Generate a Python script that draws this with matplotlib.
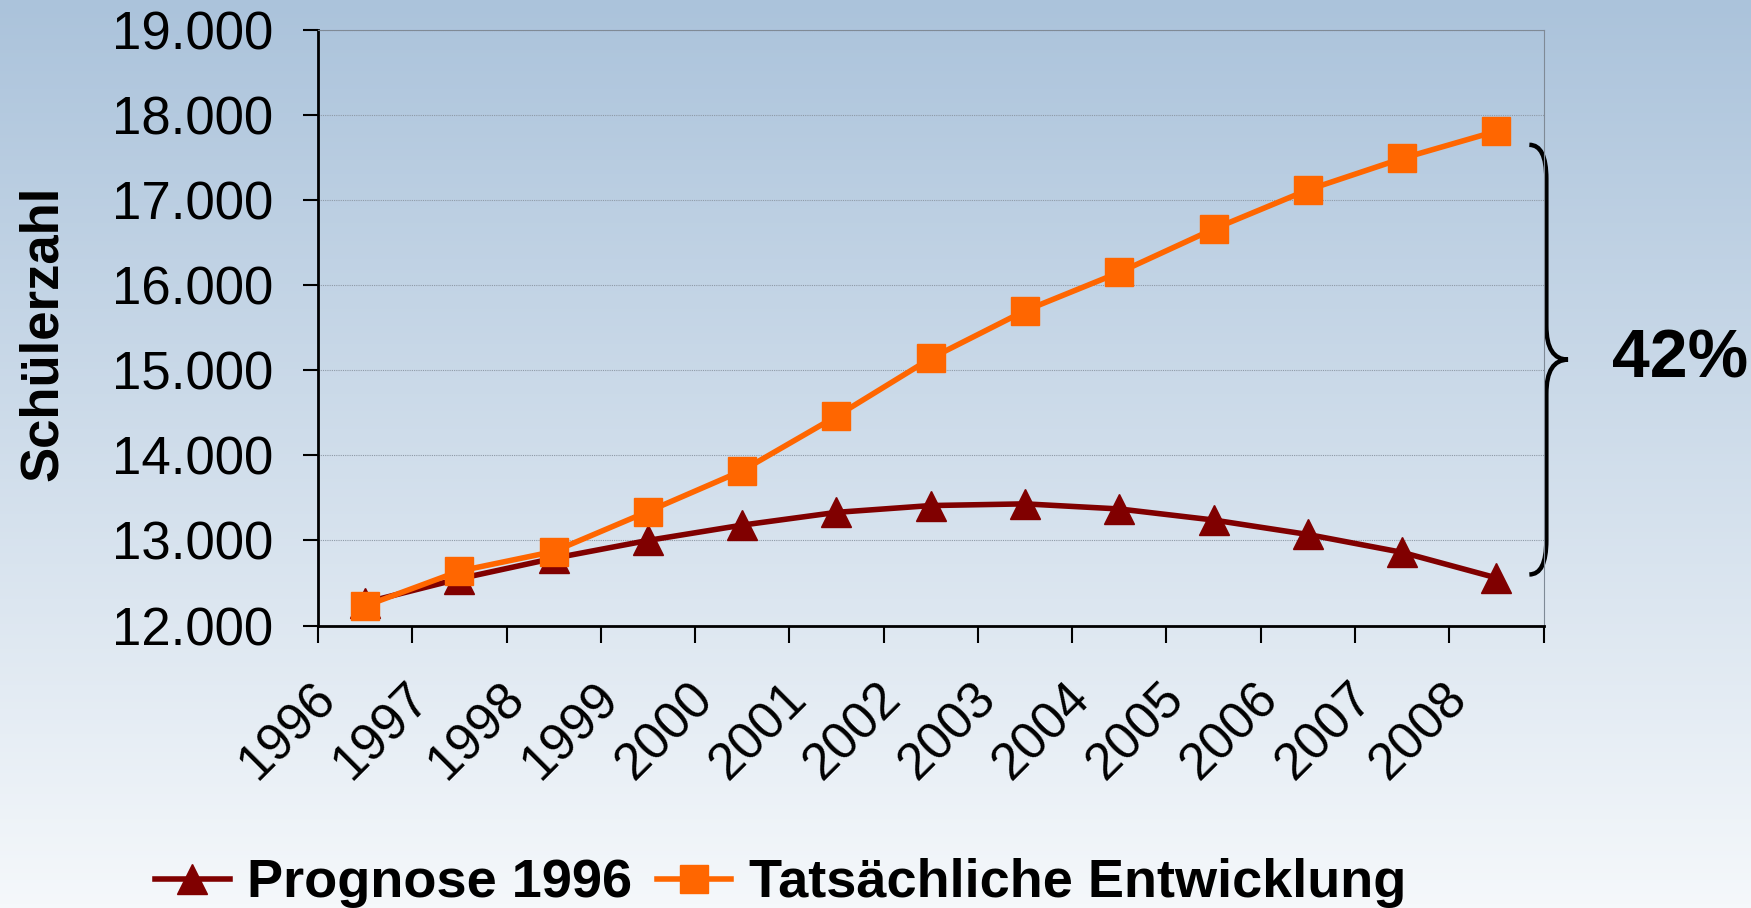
import numpy as np
import matplotlib
matplotlib.use('Agg')
import matplotlib.pyplot as plt
from matplotlib.path import Path
from matplotlib.patches import PathPatch
from matplotlib.colors import LinearSegmentedColormap
from matplotlib.transforms import ScaledTranslation

years = ['1996', '1997', '1998', '1999', '2000', '2001', '2002',
         '2003', '2004', '2005', '2006', '2007', '2008']
prognose = [12270, 12550, 12790, 13000, 13180, 13330, 13410,
            13430, 13370, 13240, 13070, 12860, 12560]
tatsaechlich = [12230, 12640, 12870, 13340, 13820, 14460, 15140,
                15700, 16150, 16660, 17120, 17490, 17810]
series_names = ['Prognose 1996', 'Tatsächliche Entwicklung']
y_ticks = [12000, 13000, 14000, 15000, 16000, 17000, 18000, 19000]
brace_top, brace_bottom = 17650, 12600
percent_text = '42%'

plt.rcParams['font.family'] = ['Liberation Sans', 'DejaVu Sans']

fig = plt.figure(figsize=(17.51, 9.08), dpi=100)

# background gradient for the whole slide
bg = fig.add_axes([0, 0, 1, 1], zorder=-10)
cmap = LinearSegmentedColormap.from_list('bg', ['#abc3db', '#f5f8fb'])
bg.imshow(np.linspace(0, 1, 256).reshape(-1, 1), aspect='auto', cmap=cmap,
          extent=[0, 1, 0, 1])
bg.set_axis_off()

ax = fig.add_axes([0.1816, 0.3111, 0.6999, 0.6559])
ax.set_facecolor('none')
x = np.arange(len(years))

ax.plot(x, prognose, color='#800000', lw=4, marker='^', ms=21.5,
        mec='#800000', mfc='#800000', label=series_names[0], zorder=3)
ax.plot(x, tatsaechlich, color='#ff6600', lw=4, marker='s', ms=20,
        mec='#ff6600', mfc='#ff6600', label=series_names[1], zorder=4)

ax.set_xlim(-0.5, len(years) - 0.5)
ax.set_ylim(12000, 19000)
ax.set_yticks(y_ticks)
ax.set_yticklabels(['{:,}'.format(v).replace(',', '.') for v in y_ticks])
ax.yaxis.grid(True, color='#8e9aa6', lw=0.8, ls=(0, (1, 1)))
ax.set_axisbelow(True)

ax.set_xticks(np.arange(len(years) + 1) - 0.5)
ax.set_xticklabels([])
ax.tick_params(axis='y', direction='out', length=11, width=1.5,
               labelsize=38, pad=21)
ax.tick_params(axis='x', direction='out', length=12, width=1.5)

for s in ['left', 'bottom']:
    ax.spines[s].set_linewidth(2)
    ax.spines[s].set_color('black')
for s in ['top', 'right']:
    ax.spines[s].set_linewidth(0.8)
    ax.spines[s].set_color('#7f8a96')

# rotated year labels below the axis
off = ScaledTranslation(-0.37, -0.66, fig.dpi_scale_trans)
for i, yr in enumerate(years):
    ax.text(i, 0, yr, transform=ax.get_xaxis_transform() + off,
            rotation=45, rotation_mode='anchor', ha='right', va='center',
            fontsize=37)

ax.set_ylabel('Schülerzahl', fontsize=38, fontweight='bold')
ax.yaxis.set_label_coords(-0.204, 0.49)

# curly brace at the right marking the gap in 2008
mid = (brace_top + brace_bottom) / 2
r = 400
x0, xs, xt = 12.35, 12.53, 12.76
verts = [(x0, brace_top), (xs, brace_top), (xs, brace_top - r),
         (xs, mid + r),
         (xs, mid), (xt, mid),
         (xs, mid), (xs, mid - r),
         (xs, brace_bottom + r),
         (xs, brace_bottom), (x0, brace_bottom)]
codes = [Path.MOVETO, Path.CURVE3, Path.CURVE3, Path.LINETO,
         Path.CURVE3, Path.CURVE3, Path.CURVE3, Path.CURVE3,
         Path.LINETO, Path.CURVE3, Path.CURVE3]
ax.add_patch(PathPatch(Path(verts, codes), fill=False, lw=3.2,
                       color='black', clip_on=False))

fig.text(0.9205, 1 - 360 / 908, percent_text, fontsize=49,
         fontweight='bold', ha='left', va='center')

leg = fig.legend(loc='center left', bbox_to_anchor=(0.0885, 0.027), ncol=2,
                 frameon=False, borderpad=0, borderaxespad=0,
                 handlelength=1.38, handletextpad=0.32, columnspacing=0.45,
                 prop={'size': 39, 'weight': 'bold'})

fig.savefig('out.png', dpi=100)
